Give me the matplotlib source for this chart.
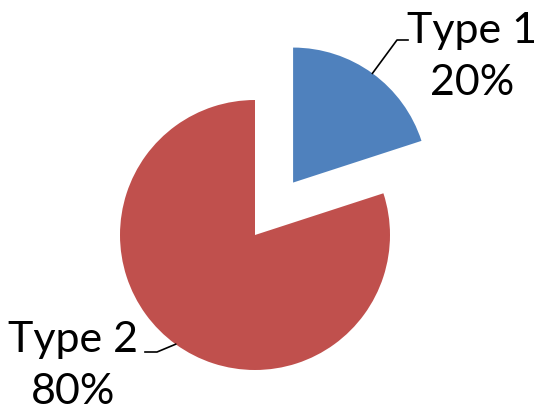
import numpy as np
import matplotlib
matplotlib.use('Agg')
import matplotlib.pyplot as plt

labels = ['Type 1', 'Type 2']
shares = [20, 80]
colors = ['#4F81BD', '#C0504D']
explode = [0.48, 0]

W, H = 539, 419
fig = plt.figure(figsize=(W / 100, H / 100), dpi=100)
ax = fig.add_axes([0, 0, 1, 1])

center = (255, 184)
radius = 135
# pie offsets exploded slices in data units, so scale by the radius
wedges, _ = ax.pie(shares, colors=colors,
                   explode=[e * radius for e in explode], startangle=90,
                   counterclock=False, center=center, radius=radius,
                   wedgeprops=dict(linewidth=0))
ax.set_xlim(0, W)
ax.set_ylim(0, H)
ax.set_aspect('equal')
ax.axis('off')

# label positions and leader elbows
text_pos = [(472, 362), (73, 53)]
elbows = [((397, 379), (408, 379)), ((157, 67), (145, 67))]
for w, lab, val, tp, (e1, e2) in zip(wedges, labels, shares, text_pos, elbows):
    mid = np.deg2rad((w.theta1 + w.theta2) / 2)
    cx, cy = w.center
    sx = cx + w.r * np.cos(mid)
    sy = cy + w.r * np.sin(mid)
    ax.plot([sx, e1[0], e2[0]], [sy, e1[1], e2[1]], color='black', lw=1.2)
    ax.text(tp[0], tp[1], f'{lab}\n{val}%', ha='center', va='center',
            fontsize=31, family='Lato', linespacing=1.45)

fig.savefig('out.png', dpi=100)
